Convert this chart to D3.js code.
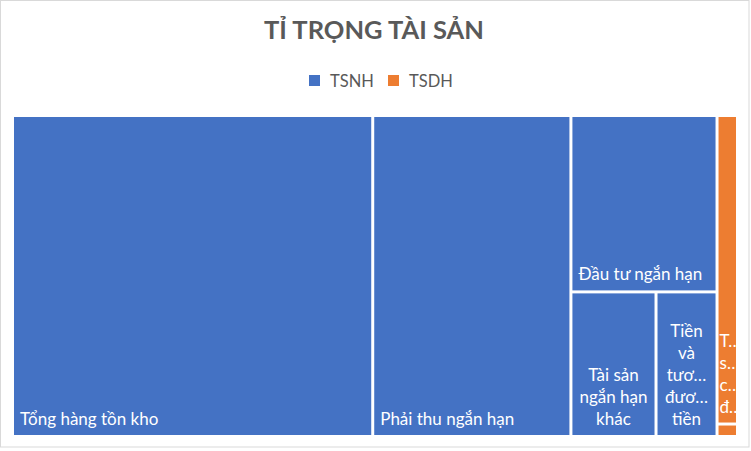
<!DOCTYPE html>
<html>
<head>
<meta charset="utf-8">
<script src="https://cdn.jsdelivr.net/npm/d3@7"></script>
<style>
  body { margin: 0; background: #fff; }
  svg { display: block; font-family: Lato, "Open Sans", sans-serif; }
</style>
</head>
<body>
<svg id="chart"></svg>
<script>
// data
const groups = ["TSNH", "TSDH"];
const groupColors = ["#4472C4", "#ED7D31"];
const items = [
  "Tổng hàng tồn kho",
  "Phải thu ngắn hạn",
  "Đầu tư ngắn hạn",
  "Tài sản ngắn hạn khác",
  "Tiền và tương đương tiền",
  "Tài sản cố định",
  "Tài sản dài hạn khác"
];
const itemGroup = ["TSNH", "TSNH", "TSNH", "TSNH", "TSNH", "TSDH", "TSDH"];
const values = [49.8, 27.4, 11.1, 5.3, 3.8, 2.72, 0.11];
const title = "TỈ TRỌNG TÀI SẢN";

const W = 751, H = 451;
const margin = { top: 117, left: 14, right: 15, bottom: 16 };
const width = W - margin.left - margin.right;
const height = H - margin.top - margin.bottom;
const labelSize = 17;

const svg = d3.select("#chart").attr("width", W).attr("height", H);

// chart border
svg.append("rect")
  .attr("x", 0.5).attr("y", 0.5)
  .attr("width", 748.5).attr("height", 446.5)
  .attr("fill", "#fff")
  .attr("stroke", "#d9d9d9");

// title
svg.append("text")
  .attr("x", 374).attr("y", 39)
  .attr("text-anchor", "middle")
  .attr("font-size", 25.5)
  .attr("font-weight", "bold")
  .attr("fill", "#595959")
  .text(title);

// legend
const color = d3.scaleOrdinal().domain(groups).range(groupColors);
const legendX = [309, 388];
const legend = svg.selectAll(".legend")
  .data(groups)
  .join("g")
  .attr("class", "legend")
  .attr("transform", (d, i) => `translate(${legendX[i]},75)`);
legend.append("rect")
  .attr("width", 11).attr("height", 11)
  .attr("fill", d => color(d));
legend.append("text")
  .attr("x", 21).attr("y", 11.5)
  .attr("font-size", 16.5)
  .attr("fill", "#595959")
  .text(d => d);

// hierarchy
const tree = {
  name: "root",
  children: groups.map(g => ({
    name: g,
    children: items
      .map((name, i) => ({ name, group: itemGroup[i], value: values[i] }))
      .filter(d => d.group === g)
  }))
};

const root = d3.hierarchy(tree)
  .sum(d => d.value || 0)
  .sort((a, b) => b.value - a.value);

d3.treemap()
  .size([width, height])
  .paddingInner(3)
  .tile(d3.treemapSquarify.ratio(1))(root);

const chart = svg.append("g")
  .attr("transform", `translate(${margin.left},${margin.top})`);

const leaves = chart.selectAll(".leaf")
  .data(root.leaves())
  .join("g")
  .attr("class", "leaf")
  .attr("transform", d => `translate(${d.x0},${d.y0})`);

leaves.append("clipPath")
  .attr("id", (d, i) => "clip" + i)
  .append("rect")
  .attr("width", d => d.x1 - d.x0)
  .attr("height", d => d.y1 - d.y0);

leaves.append("rect")
  .attr("width", d => d.x1 - d.x0)
  .attr("height", d => d.y1 - d.y0)
  .attr("fill", d => color(d.data.group));

// text measuring helper
const measurer = svg.append("text")
  .attr("font-size", labelSize)
  .attr("visibility", "hidden");
function textWidth(s) {
  measurer.text(s);
  return measurer.node().getComputedTextLength();
}

function wrapLabel(name, avail) {
  const words = name.split(" ");
  const lines = [];
  let cur = "";
  words.forEach(w => {
    if (textWidth(w) > avail) {
      if (cur) { lines.push(cur); cur = ""; }
      let k = w.length - 1;
      while (k > 1 && textWidth(w.slice(0, k) + "…") > avail) k--;
      lines.push(w.slice(0, Math.max(k, 1)) + "…");
      return;
    }
    const test = cur ? cur + " " + w : w;
    if (textWidth(test) <= avail) {
      cur = test;
    } else {
      lines.push(cur);
      cur = w;
    }
  });
  if (cur) lines.push(cur);
  return lines;
}

leaves.each(function (d, i) {
  const w = d.x1 - d.x0, h = d.y1 - d.y0;
  if (h < 20) return;
  const lines = wrapLabel(d.data.name, w - 14);
  const g = d3.select(this).append("g").attr("clip-path", `url(#clip${i})`);
  const lineH = 22;
  lines.forEach((line, j) => {
    const lw = textWidth(line);
    let x, anchor;
    if (lines.length === 1) { x = 6; anchor = "start"; }
    else if (lw > w) { x = 1; anchor = "start"; }
    else { x = w / 2; anchor = "middle"; }
    g.append("text")
      .attr("x", x)
      .attr("y", h - 10 - (lines.length - 1 - j) * lineH)
      .attr("text-anchor", anchor)
      .attr("font-size", labelSize)
      .attr("fill", "#fff")
      .text(line);
  });
});
measurer.remove();
</script>
</body>
</html>
